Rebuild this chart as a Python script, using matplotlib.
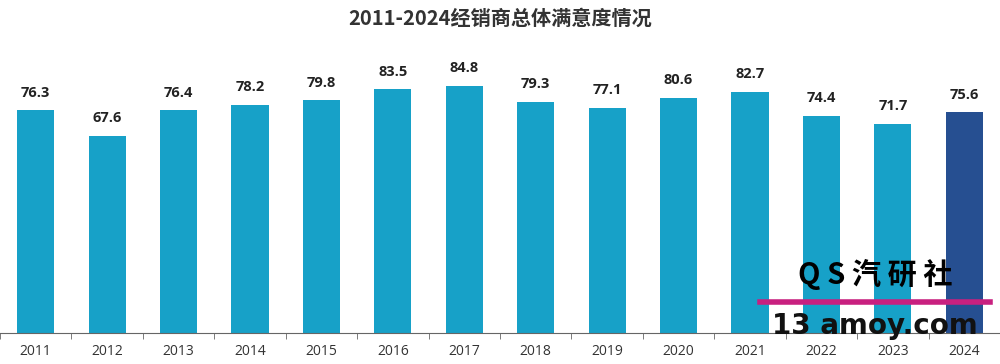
import matplotlib.pyplot as plt
import numpy as np

years = ["2011", "2012", "2013", "2014", "2015", "2016", "2017",
         "2018", "2019", "2020", "2021", "2022", "2023", "2024"]
scores = [76.3, 67.6, 76.4, 78.2, 79.8, 83.5, 84.8,
          79.3, 77.1, 80.6, 82.7, 74.4, 71.7, 75.6]

LIGHT = "#17A1C8"
DARK = "#264F91"

plt.rcParams["font.family"] = ["Open Sans", "Noto Sans CJK SC", "DejaVu Sans"]

fig = plt.figure(figsize=(10, 3.64), dpi=100)
ax = fig.add_axes([0.0, 0.085, 1.0, 0.802])

x = np.arange(len(years))
colors = [LIGHT] * (len(years) - 1) + [DARK]
bars = ax.bar(x, scores, width=0.52, color=colors)

for b, v in zip(bars, scores):
    ax.text(b.get_x() + b.get_width() / 2, v + 3.6, f"{v}", ha="center", va="bottom",
            fontsize=10.5, fontweight="bold", color="#222222")

ax.set_xlim(-0.5, len(years) - 0.5)
ax.set_ylim(0, 100)
ax.set_xticks(x)
ax.set_xticklabels(years, fontsize=10, color="#333333")
ax.set_xticks(np.arange(-0.5, len(years), 1), minor=True)
ax.tick_params(axis="x", which="major", length=0, pad=8)
ax.tick_params(axis="x", which="minor", length=4, color="#666666")
ax.set_yticks([])
for s in ["top", "left", "right"]:
    ax.spines[s].set_visible(False)
ax.spines["bottom"].set_color("#666666")

fig.text(0.5, 0.95, "2011-2024经销商总体满意度情况", ha="center", va="center",
         fontsize=14.5, fontweight="bold", color="#333333",
         family=["Noto Sans CJK SC", "DejaVu Sans"])

# watermark
fig.text(0.875, 0.245, "Q S 汽 研 社", ha="center", va="center", fontsize=21,
         fontweight="bold", family=["Noto Sans CJK SC", "DejaVu Sans"], color="black")
fig.add_artist(plt.Line2D([0.76, 0.99], [0.17, 0.17], color="#C8207F", lw=4))
fig.text(0.875, 0.105, "13 amoy.com", ha="center", va="center", fontsize=20,
         fontweight="bold", family=["DejaVu Sans"], color="#111111")

fig.savefig("out.png", dpi=100)
